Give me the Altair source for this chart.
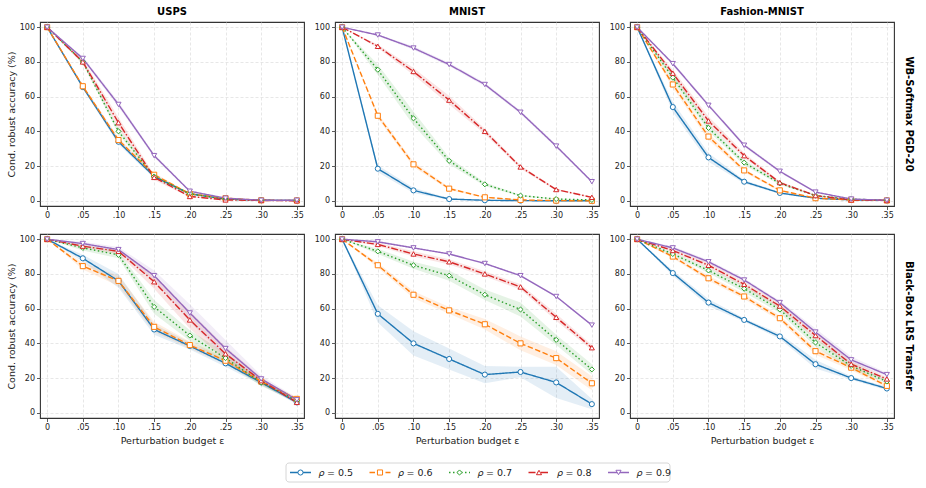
import altair as alt
import pandas as pd

FONT = "DejaVu Sans"

EPS = [0, 0.05, 0.10, 0.15, 0.20, 0.25, 0.30, 0.35]
RHO_VALUES = ["0.5", "0.6", "0.7", "0.8", "0.9"]
RHOS = ["ρ = " + v for v in RHO_VALUES]
COLORS = ["#1f77b4", "#ff7f0e", "#2ca02c", "#d62728", "#9467bd"]
DASHES = [[1, 0], [5.5, 2.5], [1.5, 2.5], [7, 2, 1.5, 2], [1, 0]]
SHAPES = ["circle", "square", "diamond", "triangle-up", "triangle-down"]

DATASETS = ["USPS", "MNIST", "Fashion-MNIST"]
ATTACKS = ["WB-Softmax PGD-20", "Black-Box LRS Transfer"]
Y_TICKS = [0, 20, 40, 60, 80, 100]

# ---- WB-Softmax PGD-20 (mean, spread) ----
usps_pgd = [
    [100, 65.5, 34, 14, 4, 1, 0.3, 0.2],
    [100, 66, 35, 15, 4, 1.5, 0.3, 0.2],
    [100, 80, 40, 14, 4, 1, 0.3, 0.2],
    [100, 80, 45, 13.5, 2.5, 0.5, 0.2, 0],
    [100, 82, 55.5, 26, 5.5, 1.5, 0.3, 0.3],
]
usps_pgd_sd = [
    [0, 1, 1.5, 1, 0.5, 0.3, 0.1, 0.1],
    [0, 1, 1.5, 1, 0.5, 0.3, 0.1, 0.1],
    [0, 1, 1.5, 1, 0.5, 0.3, 0.1, 0.1],
    [0, 1.5, 3, 1.5, 0.5, 0.3, 0.1, 0.1],
    [0, 1, 1.5, 1, 0.5, 0.3, 0.1, 0.1],
]
mnist_pgd = [
    [100, 18.5, 6, 1, 0.3, 0.1, 0, 0],
    [100, 49, 21, 7, 2, 0.5, 0.1, 0],
    [100, 75.5, 47.5, 23, 9.5, 3, 1, 0.5],
    [100, 89, 74.5, 58, 40, 19.5, 6.5, 2],
    [100, 95.5, 88, 78.5, 67, 51, 31.5, 11],
]
mnist_pgd_sd = [
    [0, 2, 1.5, 0.5, 0.2, 0.1, 0, 0],
    [0, 1.5, 1.5, 0.8, 0.3, 0.2, 0.1, 0],
    [0, 3, 4, 2, 1, 0.5, 0.3, 0.2],
    [0, 1, 2, 2.5, 1.5, 1, 0.5, 0.3],
    [0, 0.5, 1, 1, 1, 1, 1, 0.5],
]
fashion_pgd = [
    [100, 54, 25, 11, 4.5, 1.5, 0.5, 0.2],
    [100, 67, 37, 17.5, 6, 1.5, 0.5, 0.2],
    [100, 71, 42, 22, 10, 3, 1, 0.3],
    [100, 73.5, 46, 26, 10.5, 3, 0.5, 0.2],
    [100, 79, 55, 32, 17, 5, 1, 0.3],
]
fashion_pgd_sd = [
    [0, 3, 2.5, 1, 0.5, 0.3, 0.1, 0.1],
    [0, 2, 2, 1, 0.5, 0.3, 0.1, 0.1],
    [0, 2, 2, 1.5, 0.8, 0.3, 0.1, 0.1],
    [0, 2, 2.5, 1.5, 0.8, 0.3, 0.1, 0.1],
    [0, 1, 1, 1, 0.8, 0.3, 0.1, 0.1],
]

# ---- Black-Box LRS Transfer (mean, spread) ----
usps_lrs = [
    [100, 89, 76, 48, 38.5, 28.5, 17.5, 6],
    [100, 84.5, 76, 49.5, 39, 30, 18, 8],
    [100, 95, 91, 61, 44.5, 31.5, 17.5, 7],
    [100, 96, 93, 75.5, 53.5, 34, 18.5, 6],
    [100, 97.5, 94, 79, 57.5, 37, 19.5, 7.5],
]
usps_lrs_sd = [
    [0, 2, 4, 3, 2, 2, 1.5, 1],
    [0, 2, 3, 3, 2, 2, 1.5, 1],
    [0, 1.5, 2, 4, 3, 3, 2, 1],
    [0, 1, 1.5, 4, 5, 4, 2, 1],
    [0, 1, 1.5, 3, 5, 5, 2, 1],
]
mnist_lrs = [
    [100, 57, 40, 31, 22, 23.5, 17.5, 5],
    [100, 85, 68, 59, 51, 40, 31.5, 17],
    [100, 93, 85, 79, 68, 59.5, 42, 25],
    [100, 97, 91.5, 87, 80, 72.5, 55, 37.5],
    [100, 98.5, 95, 91.5, 86, 79, 67, 50.5],
]
mnist_lrs_sd = [
    [0, 5, 7, 6, 5, 3, 9, 3],
    [0, 1.5, 2, 2, 3, 4, 4, 4],
    [0, 1.5, 2, 3, 3, 4, 3, 3],
    [0, 1, 1.5, 1.5, 1.5, 1.5, 2, 1.5],
    [0, 0.5, 0.5, 0.5, 0.5, 0.5, 0.5, 0.5],
]
fashion_lrs = [
    [100, 80.5, 63.5, 53.5, 44, 28, 20, 14],
    [100, 90, 77.5, 67, 54.5, 35.5, 26, 15.5],
    [100, 91.5, 82, 71.5, 59.5, 40.5, 27, 18],
    [100, 93.5, 85, 74, 61.5, 44.5, 28, 19.5],
    [100, 95, 87, 76.5, 63.5, 46.5, 30.5, 22],
]
fashion_lrs_sd = [
    [0, 1.5, 2, 1, 1.5, 2.5, 1, 1],
    [0, 1, 1.5, 1.5, 1.5, 2, 1.5, 1],
    [0, 1, 1.5, 2, 2, 2.5, 2, 1],
    [0, 1, 1.5, 1.5, 1.5, 2, 2, 1],
    [0, 1, 1, 1, 1, 2, 2, 1],
]

PANELS = {
    (0, 0): (usps_pgd, usps_pgd_sd),
    (0, 1): (mnist_pgd, mnist_pgd_sd),
    (0, 2): (fashion_pgd, fashion_pgd_sd),
    (1, 0): (usps_lrs, usps_lrs_sd),
    (1, 1): (mnist_lrs, mnist_lrs_sd),
    (1, 2): (fashion_lrs, fashion_lrs_sd),
}

W, H = 264, 184
LW = 1.4
MSIZE = 26

color_scale = alt.Scale(domain=RHOS, range=COLORS)
dash_scale = alt.Scale(domain=RHOS, range=DASHES)
shape_scale = alt.Scale(domain=RHOS, range=SHAPES)

label_expr = "datum.value == 0 ? '0' : replace(format(datum.value, '.2f'), '0.', '.')"


def make_panel(r, c):
    acc, sd = PANELS[(r, c)]
    rows = []
    for rho, a_list, s_list in zip(RHOS, acc, sd):
        for e, a, s in zip(EPS, a_list, s_list):
            rows.append({"eps": e, "rho": rho, "acc": a, "lo": a - s, "hi": a + s})
    df = pd.DataFrame(rows)

    x = alt.X(
        "eps:Q",
        scale=alt.Scale(domain=[-0.01, 0.36], nice=False, zero=False),
        axis=alt.Axis(
            values=EPS,
            labelExpr=label_expr,
            labelOverlap=False,
            title="Perturbation budget ε" if r == 1 else "",
        ),
    )
    yscale = alt.Scale(domain=[-3, 103], nice=False, zero=False)
    yaxis = alt.Axis(
        values=Y_TICKS,
        labelOverlap=False,
        title="Cond. robust accuracy (%)" if c == 0 else "",
    )
    y = alt.Y("acc:Q", scale=yscale, axis=yaxis)
    color = alt.Color("rho:N", scale=color_scale, legend=None)

    base = alt.Chart(df)
    band = base.mark_area(opacity=0.12).encode(
        x=x, y=alt.Y("lo:Q", scale=yscale, axis=yaxis),
        y2="hi:Q", color=color,
    )
    line = base.mark_line(strokeWidth=LW).encode(
        x=x, y=y, color=color,
        strokeDash=alt.StrokeDash("rho:N", scale=dash_scale, legend=None),
    )
    pts = base.mark_point(filled=False, fill="white", fillOpacity=1, opacity=1,
                          size=MSIZE, strokeWidth=1).encode(
        x=x, y=y, color=color,
        shape=alt.Shape("rho:N", scale=shape_scale, legend=None),
    )
    layers = [band, line, pts]
    if c == 2:
        lab = alt.Chart(pd.DataFrame({"t": [ATTACKS[r]]})).mark_text(
            angle=90, font=FONT, fontSize=10, fontWeight="bold", color="#000",
            align="center", baseline="middle",
        ).encode(text="t:N", x=alt.value(W + 15), y=alt.value(H / 2))
        layers.append(lab)
    ch = alt.layer(*layers).properties(width=W, height=H)
    if r == 0:
        ch = ch.properties(title=alt.TitleParams(
            text=DATASETS[c], font=FONT, fontSize=10, fontWeight="bold",
            color="#000", offset=5))
    return ch


panels = [make_panel(r, c) for r in range(2) for c in range(3)]

# ---- legend (drawn below the first column, overflowing to the right) ----
leg_df = pd.DataFrame({"rho": RHOS, "sym": ["ρ"] * len(RHOS),
                       "val": ["= " + v for v in RHO_VALUES]})
LEG_H = 36
leg_x = alt.X("rho:N", scale=alt.Scale(type="point", domain=RHOS, padding=0,
                                       range=[260.5, 260.5 + 4 * 79.5]), axis=None)
leg_color = alt.Color("rho:N", scale=color_scale, legend=None)
leg_box = alt.Chart(pd.DataFrame({"k": [0]})).mark_rect(
    fill="white", stroke="#cccccc", strokeWidth=0.8, cornerRadius=3,
).encode(x=alt.value(246), x2=alt.value(630), y=alt.value(17), y2=alt.value(36))
leg_line = alt.Chart(leg_df).mark_rule(strokeWidth=LW, xOffset=-10.5, x2Offset=10.5).encode(
    x=leg_x, x2="rho:N", y=alt.value(26.5), color=leg_color,
    strokeDash=alt.StrokeDash("rho:N", scale=dash_scale, legend=None),
)
leg_pts = alt.Chart(leg_df).mark_point(filled=False, fill="white", fillOpacity=1, opacity=1,
                                       size=MSIZE, strokeWidth=1).encode(
    x=leg_x, y=alt.value(26.5), color=leg_color,
    shape=alt.Shape("rho:N", scale=shape_scale, legend=None),
)
leg_sym = alt.Chart(leg_df).mark_text(
    align="left", baseline="middle", dx=18, font=FONT, fontSize=9.5,
    fontStyle="italic", color="#222",
).encode(x=leg_x, y=alt.value(27), text="sym:N")
leg_txt = alt.Chart(leg_df).mark_text(
    align="left", baseline="middle", dx=26.5, font=FONT, fontSize=9.5, color="#222",
).encode(x=leg_x, y=alt.value(26.5), text="val:N")
legend = alt.layer(leg_box, leg_line, leg_pts, leg_sym, leg_txt).properties(
    width=W, height=LEG_H,
    view=alt.ViewBackground(stroke="transparent"),
)

chart = alt.concat(
    *panels, legend,
    columns=3,
    spacing=alt.RowColnumber(row=28, column=31),
    bounds="flush",
    align=alt.RowColLayoutAlign(row="each", column="all"),
).properties(
    padding={"left": 5, "top": 6, "right": 8, "bottom": 4},
).configure_view(
    stroke="#333333", strokeWidth=1.1,
).configure_axis(
    labelFont=FONT, labelFontSize=8, labelColor="#222",
    titleFont=FONT, titleFontSize=9.5, titleFontWeight="normal", titleColor="#222",
    tickColor="#333", tickSize=3.5, tickWidth=0.8, labelPadding=2,
    domain=False,
    gridColor="#dddddd", gridDash=[3, 2], gridWidth=0.7,
).configure_axisY(titlePadding=3)

chart.save("out.html", embed_options={"renderer": "svg", "actions": False})
